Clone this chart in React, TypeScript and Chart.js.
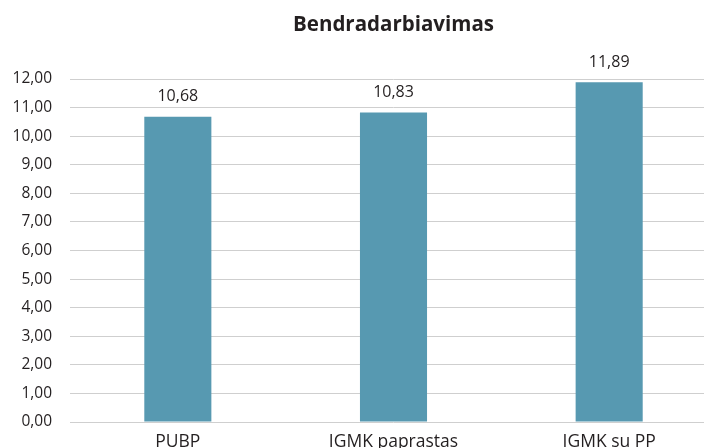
import React, { useEffect, useRef } from "react";
import { Chart, registerables } from "chart.js";

Chart.register(...registerables);

const categories = ["PUBP", "IGMK paprastas", "IGMK su PP"];
const values = [10.68, 10.83, 11.89];
const chartTitle = "Bendradarbiavimas";
const yMin = 0;
const yMax = 12;
const yStep = 1;

const fmt = (v: number) => v.toFixed(2).replace(".", ",");
const FONT = "'Open Sans', 'Noto Sans', sans-serif";

const overlayPlugin = {
  id: "overlay",
  afterDatasetsDraw(chart: any) {
    const ctx = chart.ctx;
    const area = chart.chartArea;
    ctx.save();
    ctx.fillStyle = "#231f20";
    ctx.font = `bold 20.5px ${FONT}`;
    ctx.textAlign = "center";
    ctx.textBaseline = "middle";
    ctx.fillText(chartTitle, (area.left + area.right) / 2, 25);
    const meta = chart.getDatasetMeta(0);
    ctx.font = `16px ${FONT}`;
    meta.data.forEach((bar: any, i: number) => {
      ctx.fillText(fmt(values[i]), bar.x, bar.y - 20);
    });
    ctx.restore();
  },
};

export default function App() {
  const ref = useRef<HTMLCanvasElement>(null);
  useEffect(() => {
    if (!ref.current) return;
    const chart = new Chart(ref.current, {
      type: "bar",
      data: {
        labels: categories,
        datasets: [
          {
            data: values,
            backgroundColor: "#5799b1",
            categoryPercentage: 1,
            barPercentage: 0.311,
          },
        ],
      },
      options: {
        animation: false,
        responsive: false,
        maintainAspectRatio: false,
        layout: { padding: { top: 79, right: 0, left: 0, bottom: 0 } },
        plugins: { legend: { display: false }, title: { display: false }, tooltip: { enabled: false } },
        scales: {
          x: {
            grid: { display: false, drawTicks: false },
            border: { display: false },
            ticks: { color: "#231f20", font: { family: FONT, size: 17.5 }, padding: 10, maxRotation: 0 },
          },
          y: {
            min: yMin,
            max: yMax,
            afterFit: (s: any) => {
              s.width = 70;
            },
            grid: { color: "#cfcfcf", lineWidth: 1, drawTicks: false },
            border: { display: false },
            ticks: {
              stepSize: yStep,
              color: "#231f20",
              padding: 18,
              font: { family: FONT, size: 15.5 },
              callback: (v: any) => fmt(Number(v)),
            },
          },
        },
      },
      plugins: [overlayPlugin],
    });
    return () => chart.destroy();
  }, []);
  return (
    <div style={{ position: "absolute", left: 0, top: 0, width: 717, height: 463 }}>
      <canvas ref={ref} width={717} height={463} style={{ display: "block" }} />
    </div>
  );
}
